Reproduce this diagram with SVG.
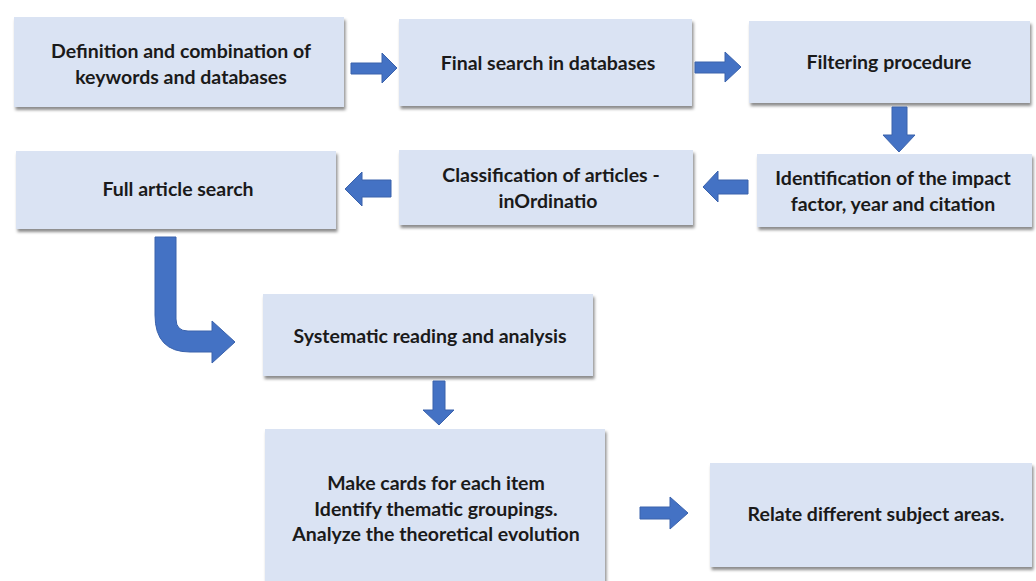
<svg xmlns="http://www.w3.org/2000/svg" width="1036" height="581" viewBox="0 0 1036 581">
<defs>
<filter id="sh" x="-10%" y="-10%" width="120%" height="130%">
<feDropShadow dx="1.5" dy="3" stdDeviation="1.5" flood-color="#000" flood-opacity="0.45"/>
</filter>
<style>
.box{fill:#DAE3F3;filter:url(#sh)}
.t{font-family:Lato,"Open Sans","Liberation Sans",sans-serif;font-size:19.5px;font-weight:bold;fill:#1a1a1a;text-anchor:middle}
.arr{fill:#4472C4;stroke:#3A62AC;stroke-width:1}
</style>
</defs>
<rect width="1036" height="581" fill="#fff"/>
<g id="n1"><rect class="box" x="14" y="17" width="330" height="90"/><text class="t" x="181" y="58">Definition and combination of</text><text class="t" x="181" y="84">keywords and databases</text></g>
<g id="n2"><rect class="box" x="399" y="19" width="293" height="87"/><text class="t" x="548" y="70">Final search in databases</text></g>
<g id="n3"><rect class="box" x="749" y="21" width="281" height="82"/><text class="t" x="889" y="69">Filtering procedure</text></g>
<g id="n4"><rect class="box" x="757" y="154" width="275" height="73"/><text class="t" x="893" y="185">Identification of the impact</text><text class="t" x="893" y="211">factor, year and citation</text></g>
<g id="n5"><rect class="box" x="399" y="150" width="294" height="75"/><text class="t" x="551" y="182">Classification of articles -</text><text class="t" x="548" y="208">inOrdinatio</text></g>
<g id="n6"><rect class="box" x="16" y="151" width="320" height="78"/><text class="t" x="178" y="196">Full article search</text></g>
<g id="n7"><rect class="box" x="263" y="294" width="330" height="82"/><text class="t" x="430" y="343">Systematic reading and analysis</text></g>
<g id="n8"><rect class="box" x="265" y="429" width="340" height="160"/><text class="t" x="436" y="490">Make cards for each item</text><text class="t" x="436" y="516">Identify thematic groupings.</text><text class="t" x="436" y="541">Analyze the theoretical evolution</text></g>
<g id="n9"><rect class="box" x="710" y="463" width="322" height="104"/><text class="t" x="876" y="521">Relate different subject areas.</text></g>
<g id="connectors">
<path class="arr" d="M351,63 H382 V53 L397,68 L382,83 V74 H351 Z"/>
<path class="arr" d="M695,62 H725 V52 L741,67 L725,82 V73 H695 Z"/>
<path class="arr" d="M892,107 H907 V135 H915 L899,152 L883,135 H892 Z"/>
<path class="arr" d="M748,180 H718 V171 L703,187 L718,202 V194 H748 Z"/>
<path class="arr" d="M391,180 H362 V172 L345,189 L362,206 V197 H391 Z"/>
<path class="arr" d="M155,237 H176 V319 Q176,331 188,331 H212 V321 L235,342 L212,363 V352 H190 Q155,352 155,315 Z"/>
<path class="arr" d="M433,381 H445 V410 H454 L439,425 L423,410 H433 Z"/>
<path class="arr" d="M640,507 H670 V497 L688,513 L670,529 V519 H640 Z"/>
</g>
</svg>
